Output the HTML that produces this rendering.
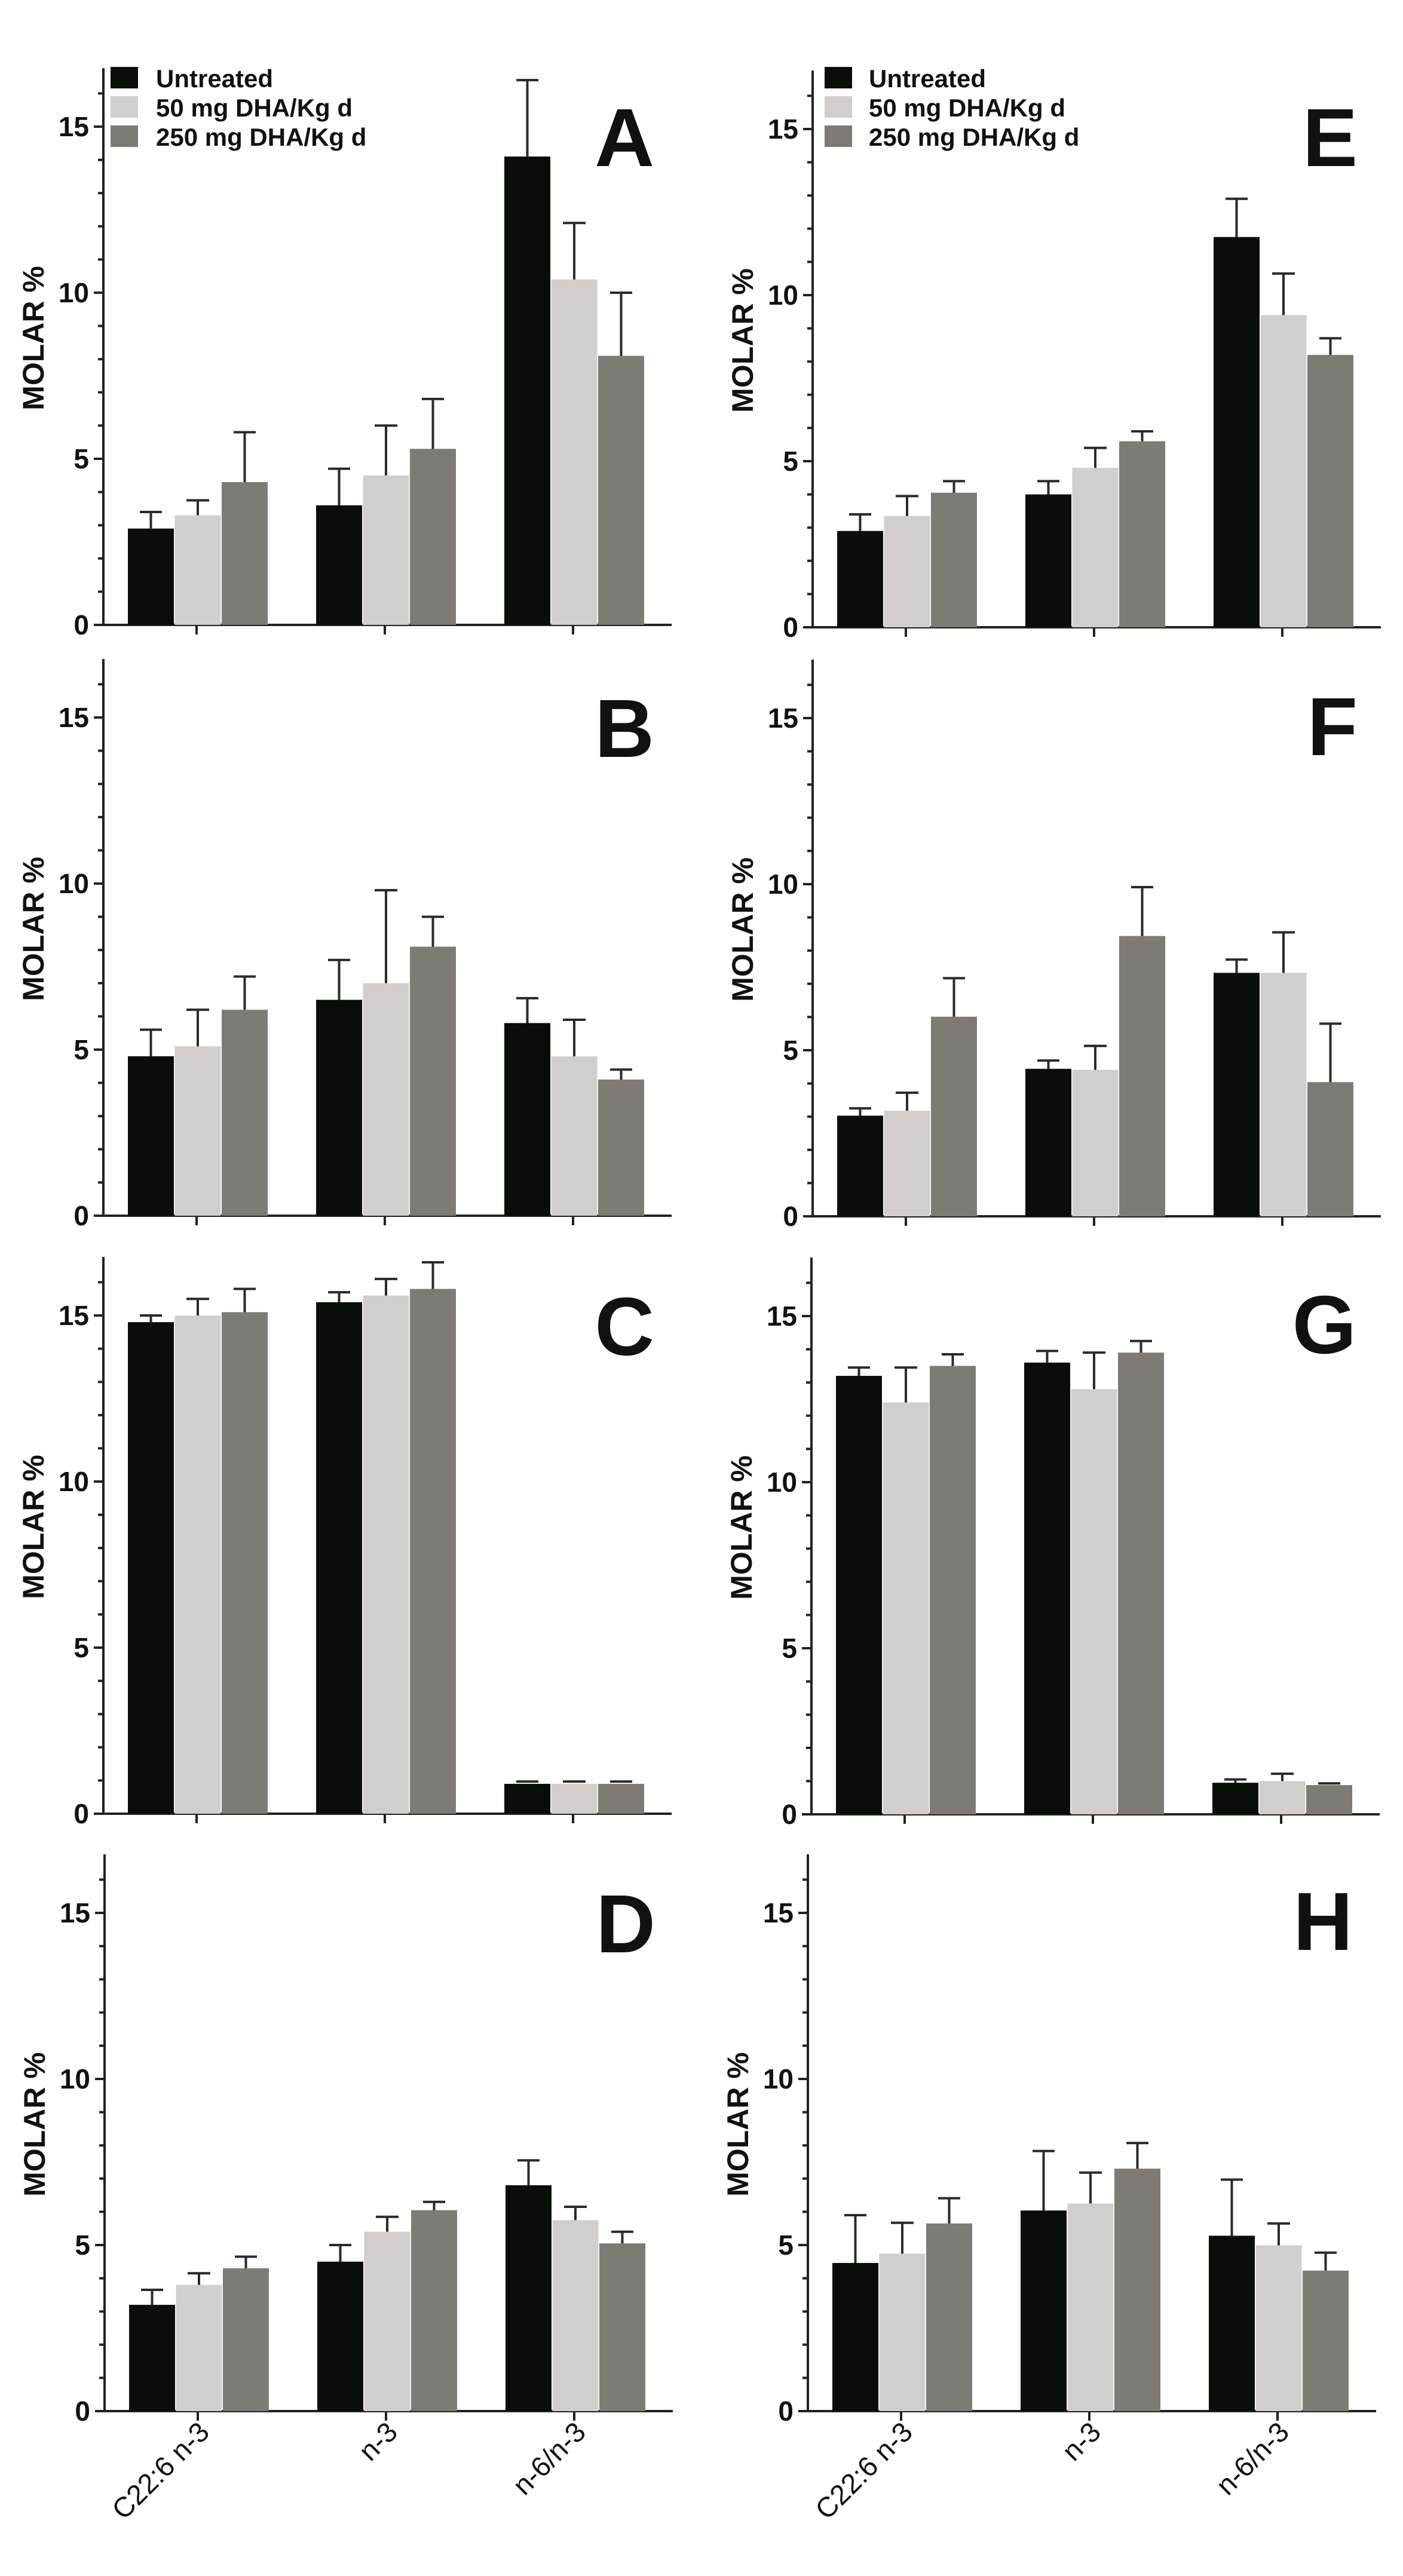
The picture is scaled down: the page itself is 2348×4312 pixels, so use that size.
<!DOCTYPE html>
<html><head><meta charset="utf-8"><style>
html,body{margin:0;padding:0;background:#fff;}
svg{display:block;}
text{font-family:"Liberation Sans",Arial,sans-serif;fill:#111;}
.tk{font-size:46px;font-weight:bold;text-anchor:end;}
.yl{font-size:50px;font-weight:bold;text-anchor:middle;}
.lg{font-size:42px;font-weight:bold;}
.pl{font-size:138px;font-weight:bold;text-anchor:end;}
.xl{font-size:47px;text-anchor:end;}
.k{fill:#0a0e09;} .l{fill:#d2cecb;} .d{fill:#7e7b75;}
.e line{stroke:#2a2a2a;stroke-width:4;vector-effect:non-scaling-stroke;}
</style></head><body>
<svg width="2348" height="4312" viewBox="0 0 2348 4312" xmlns="http://www.w3.org/2000/svg">
<defs>
<g id="ax">
<path d="M0,2 V-932 M0,0 H951 M-16,0 H0 M-9,-55.6 H0 M-9,-111.2 H0 M-9,-166.8 H0 M-9,-222.4 H0 M-16,-278 H0 M-9,-333.6 H0 M-9,-389.2 H0 M-9,-444.8 H0 M-9,-500.4 H0 M-16,-556 H0 M-9,-611.6 H0 M-9,-667.2 H0 M-9,-722.8 H0 M-9,-778.4 H0 M-16,-834 H0 M-9,-889.6 H0 M156,0 V16 M471,0 V16 M786,0 V16" stroke="#222" stroke-width="4" fill="none"/>
</g>
</defs>

<!-- Panel template positions: left axis x=173, right x=1357 -->
<!-- A -->
<g transform="translate(173,1046)">
<use href="#ax"/>
<text class="tk" x="-24" y="16">0</text><text class="tk" x="-24" y="-262">5</text><text class="tk" x="-24" y="-540">10</text><text class="tk" x="-24" y="-818">15</text>
<text class="yl" transform="translate(-100,-480) rotate(-90)">MOLAR %</text>
<text class="pl" x="922" y="-768">A</text>
<rect class="k" x="12" y="-934" width="46" height="36"/><rect class="l" x="12" y="-885" width="46" height="36"/><rect class="d" x="12" y="-836" width="46" height="36"/>
<text class="lg" x="88" y="-900">Untreated</text><text class="lg" x="88" y="-851">50 mg DHA/Kg d</text><text class="lg" x="88" y="-802">250 mg DHA/Kg d</text>
<g transform="scale(1,-55.6)">
<rect class="k" x="41" y="0" width="77" height="2.9"/><rect class="l" x="119.5" y="0" width="77" height="3.3"/><rect class="d" x="198" y="0" width="77" height="4.3"/>
<rect class="k" x="356" y="0" width="77" height="3.6"/><rect class="l" x="434.5" y="0" width="77" height="4.5"/><rect class="d" x="513" y="0" width="77" height="5.3"/>
<rect class="k" x="671" y="0" width="77" height="14.1"/><rect class="l" x="749.5" y="0" width="77" height="10.4"/><rect class="d" x="828" y="0" width="77" height="8.1"/>
<g class="e">
<line x1="79.5" y1="2.9" x2="79.5" y2="3.4"/><line x1="61" y1="3.4" x2="98" y2="3.4"/>
<line x1="158" y1="3.3" x2="158" y2="3.75"/><line x1="139" y1="3.75" x2="177" y2="3.75"/>
<line x1="236.5" y1="4.3" x2="236.5" y2="5.8"/><line x1="218" y1="5.8" x2="255" y2="5.8"/>
<line x1="394.5" y1="3.6" x2="394.5" y2="4.7"/><line x1="376" y1="4.7" x2="413" y2="4.7"/>
<line x1="473" y1="4.5" x2="473" y2="6.0"/><line x1="454" y1="6.0" x2="492" y2="6.0"/>
<line x1="551.5" y1="5.3" x2="551.5" y2="6.8"/><line x1="533" y1="6.8" x2="570" y2="6.8"/>
<line x1="709.5" y1="14.1" x2="709.5" y2="16.4"/><line x1="691" y1="16.4" x2="728" y2="16.4"/>
<line x1="788" y1="10.4" x2="788" y2="12.1"/><line x1="769" y1="12.1" x2="807" y2="12.1"/>
<line x1="866.5" y1="8.1" x2="866.5" y2="10.0"/><line x1="848" y1="10.0" x2="885" y2="10.0"/>
</g></g></g>

<!-- B -->
<g transform="translate(173,2035)">
<use href="#ax"/>
<text class="tk" x="-24" y="16">0</text><text class="tk" x="-24" y="-262">5</text><text class="tk" x="-24" y="-540">10</text><text class="tk" x="-24" y="-818">15</text>
<text class="yl" transform="translate(-100,-480) rotate(-90)">MOLAR %</text>
<text class="pl" x="922" y="-768">B</text>
<g transform="scale(1,-55.6)">
<rect class="k" x="41" y="0" width="77" height="4.8"/><rect class="l" x="119.5" y="0" width="77" height="5.1"/><rect class="d" x="198" y="0" width="77" height="6.2"/>
<rect class="k" x="356" y="0" width="77" height="6.5"/><rect class="l" x="434.5" y="0" width="77" height="7.0"/><rect class="d" x="513" y="0" width="77" height="8.1"/>
<rect class="k" x="671" y="0" width="77" height="5.8"/><rect class="l" x="749.5" y="0" width="77" height="4.8"/><rect class="d" x="828" y="0" width="77" height="4.1"/>
<g class="e">
<line x1="79.5" y1="4.8" x2="79.5" y2="5.6"/><line x1="61" y1="5.6" x2="98" y2="5.6"/>
<line x1="158" y1="5.1" x2="158" y2="6.2"/><line x1="139" y1="6.2" x2="177" y2="6.2"/>
<line x1="236.5" y1="6.2" x2="236.5" y2="7.2"/><line x1="218" y1="7.2" x2="255" y2="7.2"/>
<line x1="394.5" y1="6.5" x2="394.5" y2="7.7"/><line x1="376" y1="7.7" x2="413" y2="7.7"/>
<line x1="473" y1="7.0" x2="473" y2="9.8"/><line x1="454" y1="9.8" x2="492" y2="9.8"/>
<line x1="551.5" y1="8.1" x2="551.5" y2="9.0"/><line x1="533" y1="9.0" x2="570" y2="9.0"/>
<line x1="709.5" y1="5.8" x2="709.5" y2="6.55"/><line x1="691" y1="6.55" x2="728" y2="6.55"/>
<line x1="788" y1="4.8" x2="788" y2="5.9"/><line x1="769" y1="5.9" x2="807" y2="5.9"/>
<line x1="866.5" y1="4.1" x2="866.5" y2="4.4"/><line x1="848" y1="4.4" x2="885" y2="4.4"/>
</g></g></g>

<!-- C -->
<g transform="translate(173,3036)">
<use href="#ax"/>
<text class="tk" x="-24" y="16">0</text><text class="tk" x="-24" y="-262">5</text><text class="tk" x="-24" y="-540">10</text><text class="tk" x="-24" y="-818">15</text>
<text class="yl" transform="translate(-100,-480) rotate(-90)">MOLAR %</text>
<text class="pl" x="922" y="-768">C</text>
<g transform="scale(1,-55.6)">
<rect class="k" x="41" y="0" width="77" height="14.8"/><rect class="l" x="119.5" y="0" width="77" height="15.0"/><rect class="d" x="198" y="0" width="77" height="15.1"/>
<rect class="k" x="356" y="0" width="77" height="15.4"/><rect class="l" x="434.5" y="0" width="77" height="15.6"/><rect class="d" x="513" y="0" width="77" height="15.8"/>
<rect class="k" x="671" y="0" width="77" height="0.9"/><rect class="l" x="749.5" y="0" width="77" height="0.9"/><rect class="d" x="828" y="0" width="77" height="0.9"/>
<g class="e">
<line x1="79.5" y1="14.8" x2="79.5" y2="15.0"/><line x1="61" y1="15.0" x2="98" y2="15.0"/>
<line x1="158" y1="15.0" x2="158" y2="15.5"/><line x1="139" y1="15.5" x2="177" y2="15.5"/>
<line x1="236.5" y1="15.1" x2="236.5" y2="15.8"/><line x1="218" y1="15.8" x2="255" y2="15.8"/>
<line x1="394.5" y1="15.4" x2="394.5" y2="15.7"/><line x1="376" y1="15.7" x2="413" y2="15.7"/>
<line x1="473" y1="15.6" x2="473" y2="16.1"/><line x1="454" y1="16.1" x2="492" y2="16.1"/>
<line x1="551.5" y1="15.8" x2="551.5" y2="16.6"/><line x1="533" y1="16.6" x2="570" y2="16.6"/>
<line x1="691" y1="0.97" x2="728" y2="0.97"/>
<line x1="769" y1="0.97" x2="807" y2="0.97"/>
<line x1="848" y1="0.97" x2="885" y2="0.97"/>
</g></g></g>

<!-- D -->
<g transform="translate(175,4036)">
<use href="#ax"/>
<text class="tk" x="-24" y="16">0</text><text class="tk" x="-24" y="-262">5</text><text class="tk" x="-24" y="-540">10</text><text class="tk" x="-24" y="-818">15</text>
<text class="yl" transform="translate(-100,-480) rotate(-90)">MOLAR %</text>
<text class="pl" x="922" y="-768">D</text>
<g transform="scale(1,-55.6)">
<rect class="k" x="41" y="0" width="77" height="3.2"/><rect class="l" x="119.5" y="0" width="77" height="3.8"/><rect class="d" x="198" y="0" width="77" height="4.3"/>
<rect class="k" x="356" y="0" width="77" height="4.5"/><rect class="l" x="434.5" y="0" width="77" height="5.4"/><rect class="d" x="513" y="0" width="77" height="6.05"/>
<rect class="k" x="671" y="0" width="77" height="6.8"/><rect class="l" x="749.5" y="0" width="77" height="5.75"/><rect class="d" x="828" y="0" width="77" height="5.05"/>
<g class="e">
<line x1="79.5" y1="3.2" x2="79.5" y2="3.65"/><line x1="61" y1="3.65" x2="98" y2="3.65"/>
<line x1="158" y1="3.8" x2="158" y2="4.15"/><line x1="139" y1="4.15" x2="177" y2="4.15"/>
<line x1="236.5" y1="4.3" x2="236.5" y2="4.65"/><line x1="218" y1="4.65" x2="255" y2="4.65"/>
<line x1="394.5" y1="4.5" x2="394.5" y2="5.0"/><line x1="376" y1="5.0" x2="413" y2="5.0"/>
<line x1="473" y1="5.4" x2="473" y2="5.85"/><line x1="454" y1="5.85" x2="492" y2="5.85"/>
<line x1="551.5" y1="6.05" x2="551.5" y2="6.3"/><line x1="533" y1="6.3" x2="570" y2="6.3"/>
<line x1="709.5" y1="6.8" x2="709.5" y2="7.55"/><line x1="691" y1="7.55" x2="728" y2="7.55"/>
<line x1="788" y1="5.75" x2="788" y2="6.15"/><line x1="769" y1="6.15" x2="807" y2="6.15"/>
<line x1="866.5" y1="5.05" x2="866.5" y2="5.4"/><line x1="848" y1="5.4" x2="885" y2="5.4"/>
</g></g>
<text class="xl" transform="translate(178,38) rotate(-45)">C22:6 n-3</text>
<text class="xl" transform="translate(493,38) rotate(-45)">n-3</text>
<text class="xl" transform="translate(808,38) rotate(-45)">n-6/n-3</text>
</g>

<!-- E -->
<g transform="translate(1360,1050)">
<use href="#ax"/>
<text class="tk" x="-24" y="16">0</text><text class="tk" x="-24" y="-262">5</text><text class="tk" x="-24" y="-540">10</text><text class="tk" x="-24" y="-818">15</text>
<text class="yl" transform="translate(-100,-480) rotate(-90)">MOLAR %</text>
<text class="pl" x="912" y="-772">E</text>
<rect class="k" x="20" y="-938" width="46" height="36"/><rect class="l" x="20" y="-889" width="46" height="36"/><rect class="d" x="20" y="-840" width="46" height="36"/>
<text class="lg" x="94" y="-904">Untreated</text><text class="lg" x="94" y="-855">50 mg DHA/Kg d</text><text class="lg" x="94" y="-806">250 mg DHA/Kg d</text>
<g transform="scale(1,-55.6)">
<rect class="k" x="41" y="0" width="77" height="2.9"/><rect class="l" x="119.5" y="0" width="77" height="3.35"/><rect class="d" x="198" y="0" width="77" height="4.05"/>
<rect class="k" x="356" y="0" width="77" height="4.0"/><rect class="l" x="434.5" y="0" width="77" height="4.8"/><rect class="d" x="513" y="0" width="77" height="5.6"/>
<rect class="k" x="671" y="0" width="77" height="11.75"/><rect class="l" x="749.5" y="0" width="77" height="9.4"/><rect class="d" x="828" y="0" width="77" height="8.2"/>
<g class="e">
<line x1="79.5" y1="2.9" x2="79.5" y2="3.4"/><line x1="61" y1="3.4" x2="98" y2="3.4"/>
<line x1="158" y1="3.35" x2="158" y2="3.95"/><line x1="139" y1="3.95" x2="177" y2="3.95"/>
<line x1="236.5" y1="4.05" x2="236.5" y2="4.4"/><line x1="218" y1="4.4" x2="255" y2="4.4"/>
<line x1="394.5" y1="4.0" x2="394.5" y2="4.4"/><line x1="376" y1="4.4" x2="413" y2="4.4"/>
<line x1="473" y1="4.8" x2="473" y2="5.4"/><line x1="454" y1="5.4" x2="492" y2="5.4"/>
<line x1="551.5" y1="5.6" x2="551.5" y2="5.9"/><line x1="533" y1="5.9" x2="570" y2="5.9"/>
<line x1="709.5" y1="11.75" x2="709.5" y2="12.9"/><line x1="691" y1="12.9" x2="728" y2="12.9"/>
<line x1="788" y1="9.4" x2="788" y2="10.65"/><line x1="769" y1="10.65" x2="807" y2="10.65"/>
<line x1="866.5" y1="8.2" x2="866.5" y2="8.7"/><line x1="848" y1="8.7" x2="885" y2="8.7"/>
</g></g></g>

<!-- F -->
<g transform="translate(1360,2036)">
<use href="#ax"/>
<text class="tk" x="-24" y="16">0</text><text class="tk" x="-24" y="-262">5</text><text class="tk" x="-24" y="-540">10</text><text class="tk" x="-24" y="-818">15</text>
<text class="yl" transform="translate(-100,-480) rotate(-90)">MOLAR %</text>
<text class="pl" x="912" y="-772">F</text>
<g transform="scale(1,-55.6)">
<rect class="k" x="41" y="0" width="77" height="3.03"/><rect class="l" x="119.5" y="0" width="77" height="3.18"/><rect class="d" x="198" y="0" width="77" height="6.01"/>
<rect class="k" x="356" y="0" width="77" height="4.44"/><rect class="l" x="434.5" y="0" width="77" height="4.41"/><rect class="d" x="513" y="0" width="77" height="8.44"/>
<rect class="k" x="671" y="0" width="77" height="7.33"/><rect class="l" x="749.5" y="0" width="77" height="7.33"/><rect class="d" x="828" y="0" width="77" height="4.04"/>
<g class="e">
<line x1="79.5" y1="3.03" x2="79.5" y2="3.25"/><line x1="61" y1="3.25" x2="98" y2="3.25"/>
<line x1="158" y1="3.18" x2="158" y2="3.72"/><line x1="139" y1="3.72" x2="177" y2="3.72"/>
<line x1="236.5" y1="6.01" x2="236.5" y2="7.17"/><line x1="218" y1="7.17" x2="255" y2="7.17"/>
<line x1="394.5" y1="4.44" x2="394.5" y2="4.69"/><line x1="376" y1="4.69" x2="413" y2="4.69"/>
<line x1="473" y1="4.41" x2="473" y2="5.13"/><line x1="454" y1="5.13" x2="492" y2="5.13"/>
<line x1="551.5" y1="8.44" x2="551.5" y2="9.91"/><line x1="533" y1="9.91" x2="570" y2="9.91"/>
<line x1="709.5" y1="7.33" x2="709.5" y2="7.73"/><line x1="691" y1="7.73" x2="728" y2="7.73"/>
<line x1="788" y1="7.33" x2="788" y2="8.55"/><line x1="769" y1="8.55" x2="807" y2="8.55"/>
<line x1="866.5" y1="4.04" x2="866.5" y2="5.80"/><line x1="848" y1="5.80" x2="885" y2="5.80"/>
</g></g></g>

<!-- G -->
<g transform="translate(1358,3037)">
<use href="#ax"/>
<text class="tk" x="-24" y="16">0</text><text class="tk" x="-24" y="-262">5</text><text class="tk" x="-24" y="-540">10</text><text class="tk" x="-24" y="-818">15</text>
<text class="yl" transform="translate(-100,-480) rotate(-90)">MOLAR %</text>
<text class="pl" x="912" y="-772">G</text>
<g transform="scale(1,-55.6)">
<rect class="k" x="41" y="0" width="77" height="13.2"/><rect class="l" x="119.5" y="0" width="77" height="12.4"/><rect class="d" x="198" y="0" width="77" height="13.5"/>
<rect class="k" x="356" y="0" width="77" height="13.6"/><rect class="l" x="434.5" y="0" width="77" height="12.8"/><rect class="d" x="513" y="0" width="77" height="13.9"/>
<rect class="k" x="671" y="0" width="77" height="0.95"/><rect class="l" x="749.5" y="0" width="77" height="1.0"/><rect class="d" x="828" y="0" width="77" height="0.88"/>
<g class="e">
<line x1="79.5" y1="13.2" x2="79.5" y2="13.45"/><line x1="61" y1="13.45" x2="98" y2="13.45"/>
<line x1="158" y1="12.4" x2="158" y2="13.45"/><line x1="139" y1="13.45" x2="177" y2="13.45"/>
<line x1="236.5" y1="13.5" x2="236.5" y2="13.85"/><line x1="218" y1="13.85" x2="255" y2="13.85"/>
<line x1="394.5" y1="13.6" x2="394.5" y2="13.95"/><line x1="376" y1="13.95" x2="413" y2="13.95"/>
<line x1="473" y1="12.8" x2="473" y2="13.9"/><line x1="454" y1="13.9" x2="492" y2="13.9"/>
<line x1="551.5" y1="13.9" x2="551.5" y2="14.25"/><line x1="533" y1="14.25" x2="570" y2="14.25"/>
<line x1="709.5" y1="0.95" x2="709.5" y2="1.05"/><line x1="691" y1="1.05" x2="728" y2="1.05"/>
<line x1="788" y1="1.0" x2="788" y2="1.22"/><line x1="769" y1="1.22" x2="807" y2="1.22"/>
<line x1="848" y1="0.93" x2="885" y2="0.93"/>
</g></g></g>

<!-- H -->
<g transform="translate(1352,4036)">
<use href="#ax"/>
<text class="tk" x="-24" y="16">0</text><text class="tk" x="-24" y="-262">5</text><text class="tk" x="-24" y="-540">10</text><text class="tk" x="-24" y="-818">15</text>
<text class="yl" transform="translate(-100,-480) rotate(-90)">MOLAR %</text>
<text class="pl" x="912" y="-772">H</text>
<g transform="scale(1,-55.6)">
<rect class="k" x="41" y="0" width="77" height="4.46"/><rect class="l" x="119.5" y="0" width="77" height="4.74"/><rect class="d" x="198" y="0" width="77" height="5.65"/>
<rect class="k" x="356" y="0" width="77" height="6.04"/><rect class="l" x="434.5" y="0" width="77" height="6.25"/><rect class="d" x="513" y="0" width="77" height="7.30"/>
<rect class="k" x="671" y="0" width="77" height="5.28"/><rect class="l" x="749.5" y="0" width="77" height="4.99"/><rect class="d" x="828" y="0" width="77" height="4.23"/>
<g class="e">
<line x1="79.5" y1="4.46" x2="79.5" y2="5.9"/><line x1="61" y1="5.9" x2="98" y2="5.9"/>
<line x1="158" y1="4.74" x2="158" y2="5.67"/><line x1="139" y1="5.67" x2="177" y2="5.67"/>
<line x1="236.5" y1="5.65" x2="236.5" y2="6.41"/><line x1="218" y1="6.41" x2="255" y2="6.41"/>
<line x1="394.5" y1="6.04" x2="394.5" y2="7.83"/><line x1="376" y1="7.83" x2="413" y2="7.83"/>
<line x1="473" y1="6.25" x2="473" y2="7.18"/><line x1="454" y1="7.18" x2="492" y2="7.18"/>
<line x1="551.5" y1="7.30" x2="551.5" y2="8.07"/><line x1="533" y1="8.07" x2="570" y2="8.07"/>
<line x1="709.5" y1="5.28" x2="709.5" y2="6.97"/><line x1="691" y1="6.97" x2="728" y2="6.97"/>
<line x1="788" y1="4.99" x2="788" y2="5.65"/><line x1="769" y1="5.65" x2="807" y2="5.65"/>
<line x1="866.5" y1="4.23" x2="866.5" y2="4.77"/><line x1="848" y1="4.77" x2="885" y2="4.77"/>
</g></g>
<text class="xl" transform="translate(178,38) rotate(-45)">C22:6 n-3</text>
<text class="xl" transform="translate(493,38) rotate(-45)">n-3</text>
<text class="xl" transform="translate(808,38) rotate(-45)">n-6/n-3</text>
</g>
</svg>
</body></html>
